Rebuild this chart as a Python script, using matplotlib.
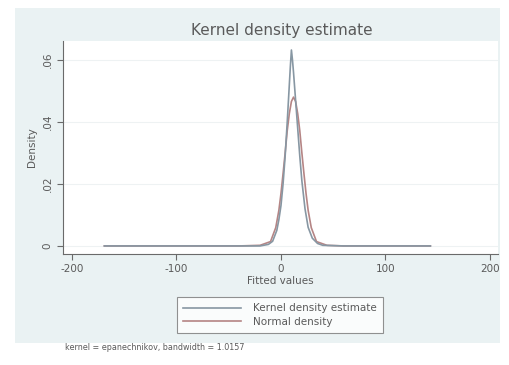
import matplotlib
matplotlib.use("Agg")
import matplotlib.pyplot as plt
from matplotlib.patches import Rectangle

# Kernel density estimate
kde_x = [-169, -40, -20, -12, -8, -4, -2, 0, 2, 4, 6, 8, 9, 10, 11, 12, 14, 16, 18, 20, 23, 26, 30, 35, 40, 60, 143]
kde_y = [0.0, 0.0, 0.0, 0.0005, 0.0015, 0.005, 0.0085, 0.013, 0.020, 0.029, 0.040, 0.052, 0.058, 0.0632, 0.060, 0.056, 0.047, 0.038, 0.029, 0.021, 0.012, 0.006, 0.0025, 0.0008, 0.0002, 0.0, 0.0]

# Normal density
norm_x = [-169, -40, -20, -10, -5, -2, 0, 2, 4, 6, 8, 10, 12, 14, 16, 18, 20, 22, 24, 26, 29, 34, 44, 60, 143]
norm_y = [0.0, 0.0, 0.0002, 0.0014, 0.0059, 0.0115, 0.0169, 0.0233, 0.030, 0.0372, 0.0427, 0.0466, 0.048, 0.0466, 0.0427, 0.0372, 0.030, 0.0233, 0.0169, 0.0115, 0.0059, 0.0014, 0.0002, 0.0, 0.0]

xticks = [-200, -100, 0, 100, 200]
xticklabels = ["-200", "-100", "0", "100", "200"]
yticks = [0, 0.02, 0.04, 0.06]
yticklabels = ["0", ".02", ".04", ".06"]

bg = "#eaf2f3"
txt = "#5a5a5a"
axc = "#6a6a6a"

fig = plt.figure(figsize=(5.1, 3.65), dpi=100)
fig.patch.set_facecolor("white")
fig.patches.append(Rectangle((15/510, 1-343/365), (500-15)/510, (343-8)/365,
                             transform=fig.transFigure, facecolor=bg, edgecolor="none", zorder=-10))

ax = fig.add_axes([63/510, 1-254/365, (498-63)/510, (254-41)/365])
ax.set_facecolor("white")
ax.plot(kde_x, kde_y, color="#8797a3", lw=1.2, label="Kernel density estimate", zorder=3)
ax.plot(norm_x, norm_y, color="#b58585", lw=1.2, label="Normal density", zorder=2)

ax.set_xlim(-208.6, 207.7)
ax.set_ylim(-0.0026, 0.0661)
ax.set_xticks(xticks)
ax.set_xticklabels(xticklabels)
ax.set_yticks(yticks)
ax.set_yticklabels(yticklabels, rotation=90, va="center")
for y in yticks:
    ax.axhline(y, color="#eef2f3", lw=0.8, zorder=0)

for s in ["top", "right"]:
    ax.spines[s].set_visible(False)
for s in ["left", "bottom"]:
    ax.spines[s].set_color(axc)
    ax.spines[s].set_linewidth(0.8)
ax.tick_params(axis="both", colors=axc, labelcolor=txt, labelsize=7.5, length=4, width=0.8)

ax.set_xlabel("Fitted values", fontsize=7.5, color=txt, labelpad=1)
ax.set_ylabel("Density", fontsize=7.5, color=txt, labelpad=4)
fig.text(282/510, 1-30/365, "Kernel density estimate", ha="center", va="center",
         fontsize=11, color=txt)

leg = fig.legend(loc="center", bbox_to_anchor=(280/510, 1-315/365), fontsize=7.5,
                 frameon=True, fancybox=False, edgecolor="#777777", facecolor="white",
                 handlelength=5.5, borderpad=0.6, labelspacing=0.35, handletextpad=1.2)
leg.get_frame().set_linewidth(0.8)
for t in leg.get_texts():
    t.set_color(txt)

fig.text(65/510, 1-348/365, "kernel = epanechnikov, bandwidth = 1.0157", ha="left", va="center",
         fontsize=5.8, color=txt)

fig.savefig("out.png", dpi=100, facecolor="white")
